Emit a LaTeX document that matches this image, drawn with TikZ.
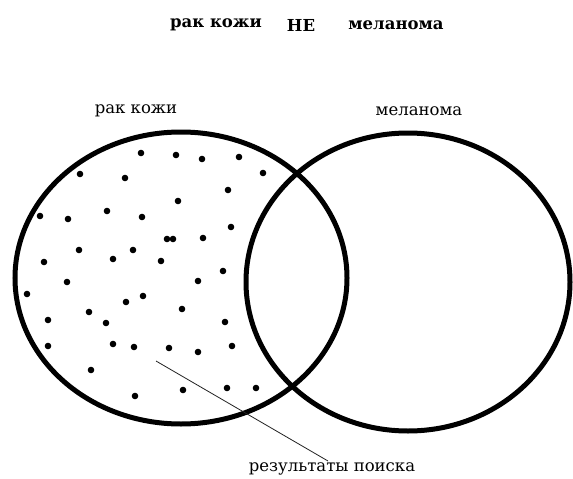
\documentclass[tikz,border=0pt]{standalone}
\usepackage{fontspec}
\setmainfont{DejaVu Serif}
\usepackage{tikz}
\usetikzlibrary{positioning, calc}
\usepackage{xcolor}
\definecolor{InkBlack}{HTML}{000000}
\definecolor{DarkGrey}{HTML}{222222}
\tikzset{
  % Venn set outline
  venn/.style={
    draw=InkBlack, line width=5pt
  },
  % Search hit dot
  hit/.style={
    fill=InkBlack, draw=none
  },
  % Set caption
  setlabel/.style={
    font=\fontsize{16.5}{18}\selectfont, inner sep=1pt
  },
  % Title word
  titleword/.style={
    font=\fontsize{16.5}{18}\selectfont\bfseries, inner sep=1pt
  },
  % Pointer line
  pointer/.style={
    draw=DarkGrey, line width=0.8pt
  }
}

\begin{document}
\begin{tikzpicture}[x=1pt, y=-1pt]

\useasboundingbox (0,0) rectangle (573,479);

% ── title ───────────────────────────────────────────────────
\node[titleword] (t_skin) at (216,25) {рак кожи};
\node[titleword] (t_not)  at (301,25) {НЕ};
\node[titleword] (t_mel)  at (396,25) {меланома};

% ── the two sets ────────────────────────────────────────────
\coordinate (skin) at (181,278);
\coordinate (mel)  at (408,282);

\node[setlabel] (l_skin) at (136,111) {рак кожи};
\node[setlabel] (l_mel)  at (419,111) {меланома};

% ── search hits: skin cancer outside melanoma ───────────────
\foreach \px/\py in {
  141/153, 176/155, 202/159, 239/157, 263/173,
  80/174, 125/178, 228/190, 178/201,
  40/216, 68/219, 107/211, 142/217, 231/227,
  167/239, 173/239, 203/238,
  79/250, 133/250, 113/259, 44/262, 161/261, 223/271,
  67/282, 198/281, 27/294, 126/302, 143/296, 182/309,
  89/312, 48/320, 106/323, 225/322,
  113/344, 134/347, 169/348, 198/352, 232/346, 48/346,
  91/370, 135/396, 183/390, 227/388, 256/388}
  \fill[hit] (\px,\py) circle (3.3pt);

\draw[venn] (skin) ellipse [x radius=166pt, y radius=146pt];
\draw[venn] (mel)  ellipse [x radius=162pt, y radius=149pt];

% ── pointer to the result ───────────────────────────────────
\coordinate (ptr) at (156,361);
\node[setlabel, anchor=north] (results) at (332,461) {результаты поиска};
\draw[pointer] (ptr) -- ([xshift=-4pt]results.north);

\end{tikzpicture}
\end{document}
